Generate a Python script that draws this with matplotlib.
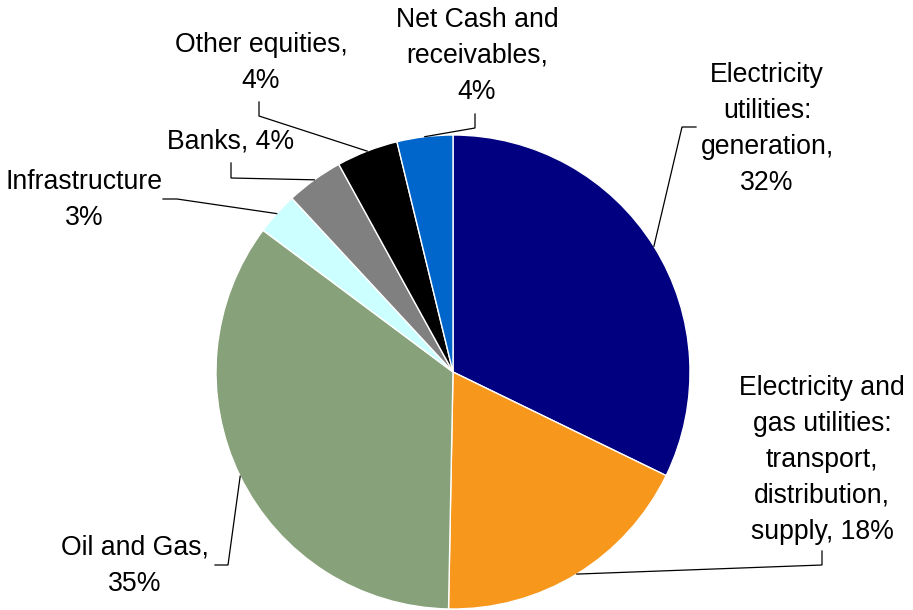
import numpy as np
import matplotlib
matplotlib.use("Agg")
import matplotlib.pyplot as plt

# Data
labels = ["Electricity\nutilities:\ngeneration,\n32%",
          "Electricity and\ngas utilities:\ntransport,\ndistribution,\nsupply, 18%",
          "Oil and Gas,\n35%",
          "Infrastructure\n3%",
          "Banks, 4%",
          "Other equities,\n4%",
          "Net Cash and\nreceivables,\n4%"]
values = [32.2, 18.1, 34.9, 2.9, 3.9, 4.2, 3.8]
colors = ["#000080", "#F7981D", "#87A27A", "#CCFFFF", "#808080", "#000000", "#0066CC"]

W, H = 913, 610
plt.rcParams['font.family'] = ['Liberation Sans', 'DejaVu Sans']

fig = plt.figure(figsize=(W / 100, H / 100), dpi=100)
ax = fig.add_axes([0, 0, 1, 1])

def P(x, y):
    return x, H - y

cx, cy, R = 453, 372, 237
wedges, _ = ax.pie(values, startangle=90, counterclock=False, colors=colors,
                   center=P(cx, cy), radius=R,
                   wedgeprops=dict(edgecolor="white", linewidth=1))
ax.set_xlim(0, W)
ax.set_ylim(0, H)
ax.set_aspect("equal")
ax.set_axis_off()

# label layout: text centre, leader path (elbow points) in pixel coords
text_pos = [(767, 129), (822, 460), (135, 566), (84, 200), (231, 142), (261, 63), (477, 56)]
elbows = [
    [(682, 127), (696, 127)],
    [(822, 565), (822, 551)],
    [(228, 565), (215, 565)],
    [(177, 199), (163, 199)],
    [(231, 178), (231, 163)],
    [(259, 116), (259, 102)],
    [(475, 128), (475, 114)],
]

total = sum(values)
theta = 90.0
for i, v in enumerate(values):
    span = 360.0 * v / total
    mid = np.deg2rad(theta - span / 2)
    theta -= span
    sx = cx + R * np.cos(mid)
    sy = cy - R * np.sin(mid)
    pts = [(sx, sy)] + elbows[i]
    xs = [P(*p)[0] for p in pts]
    ys = [P(*p)[1] for p in pts]
    ax.plot(xs, ys, color="black", lw=0.9, solid_joinstyle="miter")
    tx, ty = P(*text_pos[i])
    ax.text(tx, ty, labels[i], ha="center", va="center", multialignment="center",
            fontsize=19.2, color="black", linespacing=1.5)

fig.savefig("out.png", dpi=100)
